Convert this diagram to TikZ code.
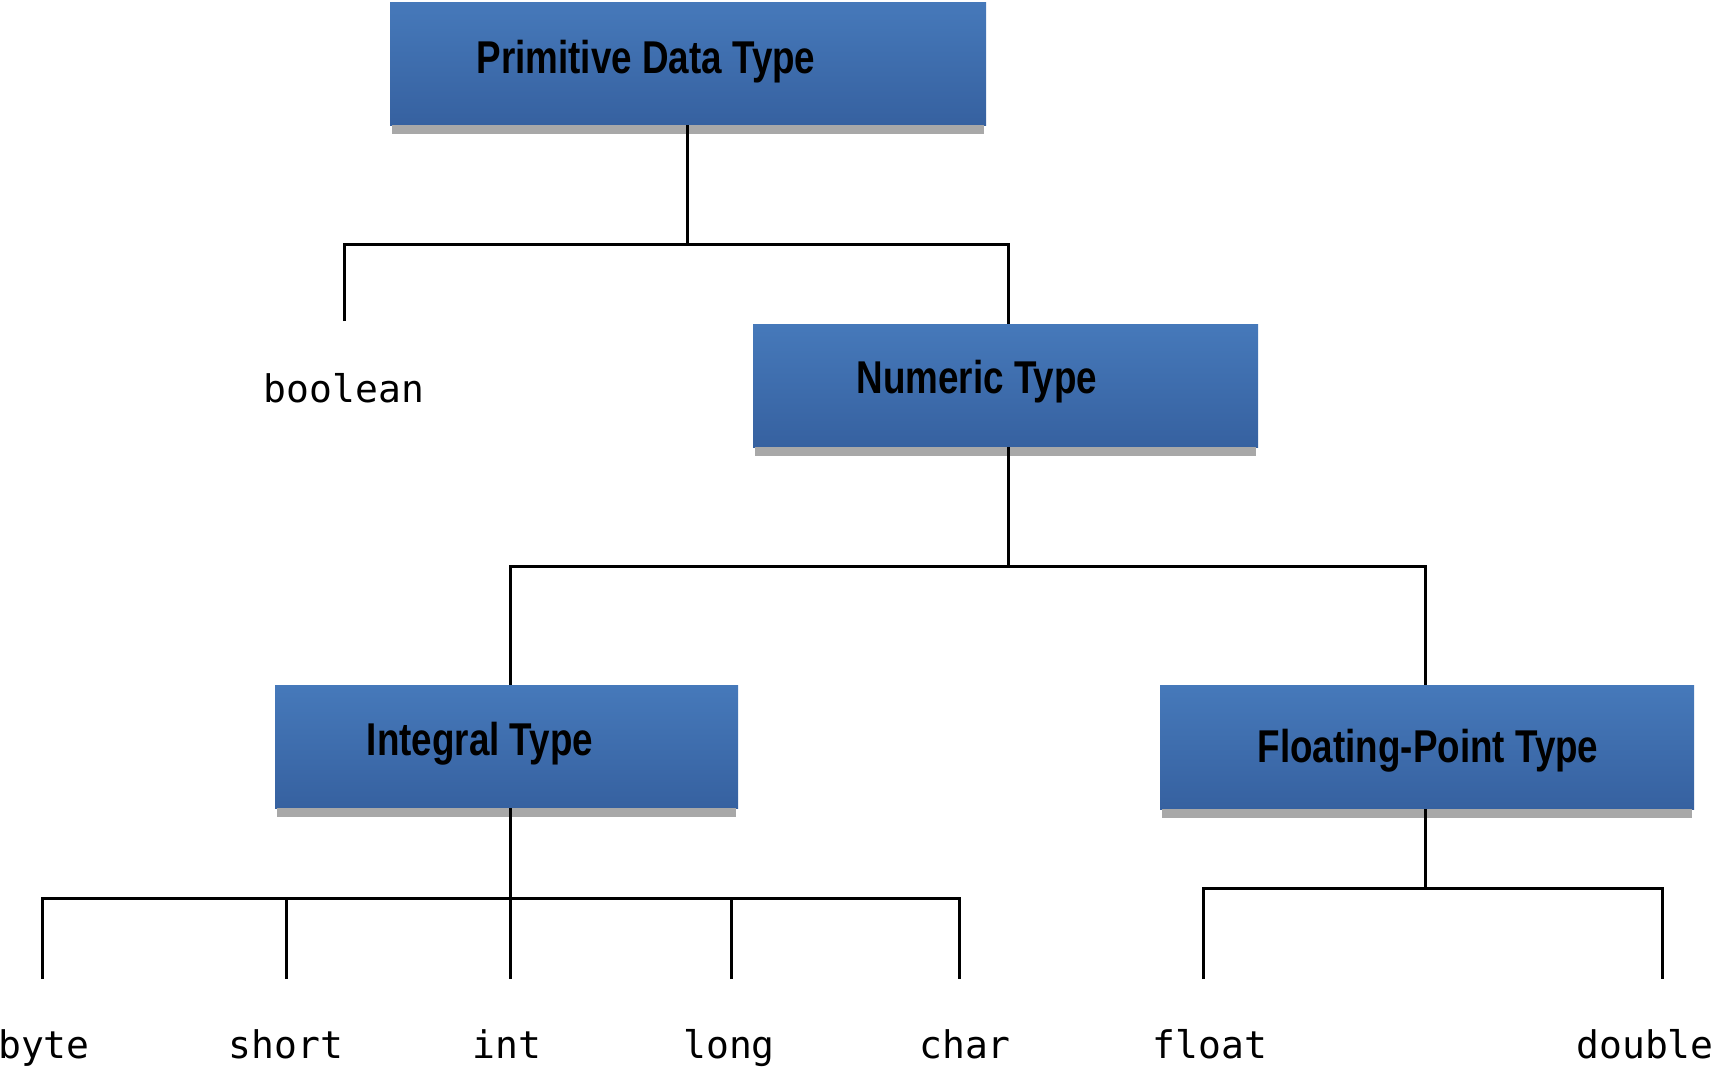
\documentclass[tikz,border=0pt]{standalone}
\usepackage{fontspec}
\newfontfamily\boxfont[FakeStretch=0.8]{Liberation Sans}
\newfontfamily\monofont{DejaVu Sans Mono}
\definecolor{boxtop}{RGB}{70,121,186}
\definecolor{boxbot}{RGB}{54,97,160}
\definecolor{shadowgrey}{RGB}{168,168,168}
\begin{document}
\begin{tikzpicture}[x=1pt,y=-1pt,
  typebox/.style={rectangle, inner sep=0pt, top color=boxtop, middle color=boxtop!92!boxbot, bottom color=boxbot},
  boxlabel/.style={inner sep=0pt, anchor=base, font=\boxfont\bfseries\fontsize{46}{50}\selectfont, text=black},
  leaf/.style={inner sep=0pt, anchor=base, font=\monofont\fontsize{38}{42}\selectfont, text=black},
  conn/.style={line width=3pt, black}]
\useasboundingbox (0,0) rectangle (1717,1071);
% boxes
\node[typebox, minimum width=596pt, minimum height=123pt] (prim) at (688,63.5) {};
\node[typebox, minimum width=505pt, minimum height=123pt] (num) at (1005.5,385.5) {};
\node[typebox, minimum width=463pt, minimum height=123pt] (integ) at (506.5,746.5) {};
\node[typebox, minimum width=534pt, minimum height=124pt] (float) at (1427,747) {};
% shadows
\foreach \b in {prim,num,integ,float}{
  \fill[shadowgrey] ([xshift=2pt]\b.south west) rectangle ([xshift=-2pt,yshift=-9pt]\b.south east);
}
% box labels
\node[boxlabel] (primT) at (646,73) {Primitive Data Type};
\node[boxlabel] (numT) at (977,393) {Numeric Type};
\node[boxlabel] (integT) at (480,755) {Integral Type};
\node[boxlabel] (floatT) at (1428,762) {Floating-Point Type};
% leaves
\node[leaf] (boolean) at (344,402) {boolean};
\node[leaf] (byte) at (44,1058) {byte};
\node[leaf] (short) at (286,1058) {short};
\node[leaf] (int) at (507,1058) {int};
\node[leaf] (long) at (729,1058) {long};
\node[leaf] (char) at (965,1058) {char};
\node[leaf] (floatL) at (1210,1058) {float};
\node[leaf] (double) at (1645,1058) {double};
% junction coordinates
\coordinate (j1) at (687,244);
\coordinate (boolTop) at (344,321);
\coordinate (j2) at (1008,566);
\coordinate (j3) at (510,898);
\coordinate (j4) at (1425,888);
\coordinate (byteTop) at (42,979);
\coordinate (shortTop) at (286,979);
\coordinate (intTop) at (510,979);
\coordinate (longTop) at (731,979);
\coordinate (charTop) at (959,979);
\coordinate (floatTop) at (1203,979);
\coordinate (doubleTop) at (1662,979);
% connectors
\draw[conn] (j1 |- prim.south) -- (j1);
\draw[conn] (boolTop) |- (j1) -| (j2 |- num.north);
\draw[conn] (j2 |- num.south) -- (j2);
\draw[conn] (j3 |- integ.north) |- (j2) -| (j4 |- float.north);
\draw[conn] (j3 |- integ.south) -- (j3) -- (intTop);
\draw[conn] (byteTop) |- (j3) -| (charTop);
\draw[conn] (shortTop) -- (shortTop |- j3);
\draw[conn] (longTop) -- (longTop |- j3);
\draw[conn] (j4 |- float.south) -- (j4);
\draw[conn] (floatTop) |- (j4) -| (doubleTop);
\end{tikzpicture}
\end{document}
